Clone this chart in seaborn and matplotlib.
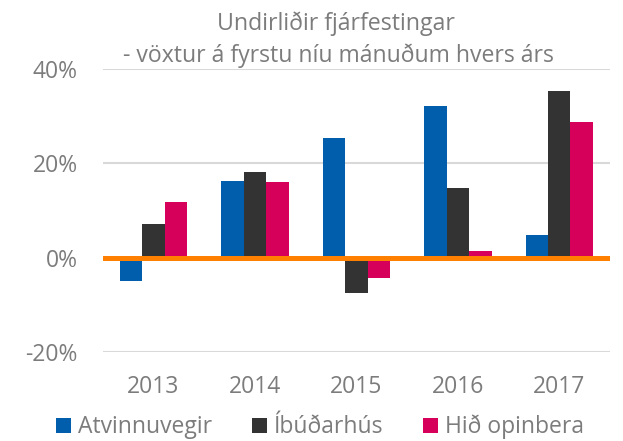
import matplotlib
matplotlib.use("Agg")
import matplotlib.pyplot as plt
import seaborn as sns
import pandas as pd
from matplotlib.ticker import FuncFormatter
from matplotlib.patches import Patch

years = ["2013", "2014", "2015", "2016", "2017"]
series_names = ["Atvinnuvegir", "Íbúðarhús", "Hið opinbera"]
atvinnuvegir = [-5.0, 16.3, 25.5, 32.2, 4.8]
ibudarhus = [7.1, 18.2, -7.5, 14.7, 35.3]
hid_opinbera = [11.9, 16.0, -4.3, 1.3, 28.8]
yticks = [-20, 0, 20, 40]

colors = ["#005EAD", "#333333", "#D6005A"]
text_color = "#7c7c7c"

rows = []
for name, vals in zip(series_names, [atvinnuvegir, ibudarhus, hid_opinbera]):
    for y, v in zip(years, vals):
        rows.append({"year": y, "series": name, "value": v})
df = pd.DataFrame(rows)

sns.set_theme(style="white")
plt.rcParams["font.family"] = ["Open Sans", "DejaVu Sans"]

fig = plt.figure(figsize=(6.23, 4.41), dpi=100)
ax = fig.add_axes([0.1648, 0.2025, 0.8143, 0.6404])

sns.barplot(data=df, x="year", y="value", hue="series", order=years,
            hue_order=series_names, palette=colors, width=0.665, gap=0,
            saturation=1, ax=ax, legend=False, zorder=2, linewidth=0)

ax.set_ylim(-20, 40)
ax.set_xlim(-0.5, 4.5)
ax.set_yticks(yticks)
ax.yaxis.set_major_formatter(FuncFormatter(lambda v, p: f"{int(v)}%"))
ax.grid(axis="y", color="#D9D9D9", linewidth=1.5, zorder=0)
ax.set_axisbelow(True)
ax.axhline(0, color="#FF7F00", linewidth=3.6, zorder=3)
for s in ax.spines.values():
    s.set_visible(False)
ax.tick_params(axis="both", length=0, labelsize=16.5, colors=text_color)
ax.tick_params(axis="y", pad=18)
ax.tick_params(axis="x", pad=17)
ax.set_xlabel("")
ax.set_ylabel("")

fig.text(0.54, 1 - 30 / 441, "Undirliðir fjárfestingar", ha="center",
         va="baseline", fontsize=16.7, color=text_color)
fig.text(0.544, 1 - 62 / 441, "- vöxtur á fyrstu níu mánuðum hvers árs",
         ha="center", va="baseline", fontsize=16.6, color=text_color)

handles = [Patch(facecolor=c, edgecolor="none") for c in colors]
leg = fig.legend(handles, series_names, loc="center", ncol=3,
                 bbox_to_anchor=(320 / 623, 1 - 427 / 441), frameon=False,
                 fontsize=16.5, handlelength=0.65, handleheight=0.65,
                 handletextpad=0.3, columnspacing=1.75, borderaxespad=0,
                 borderpad=0)
for t in leg.get_texts():
    t.set_color(text_color)

fig.savefig("out.png", dpi=100)
